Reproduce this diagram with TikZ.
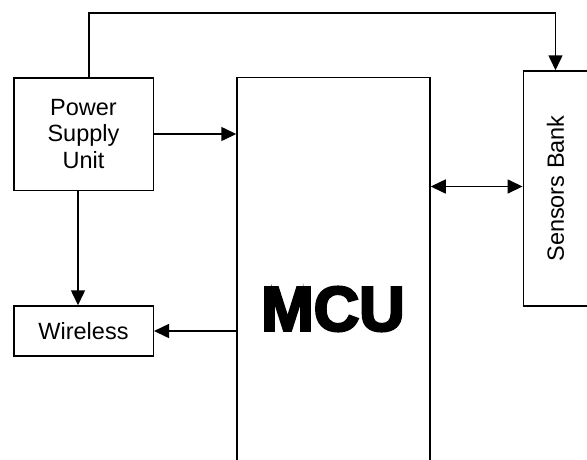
\documentclass[tikz,border=0pt]{standalone}
\usepackage{fontspec}
\setmainfont{Liberation Sans}
\newfontfamily\mcufont[FakeBold=4]{Liberation Sans Bold}
\usetikzlibrary{arrows.meta, calc, positioning}

\tikzset{
  block/.style={draw, line width=1.5pt, rectangle, inner sep=0pt, align=center,
    font=\fontsize{23.5}{26.7}\selectfont},
  arrow/.style={line width=1.5pt, -{Triangle[length=15pt, width=14pt]}},
  twoway/.style={line width=1.5pt, {Triangle[length=15pt, width=14pt]}-{Triangle[length=15pt, width=14pt]}}
}

\begin{document}
\begin{tikzpicture}[x=1pt, y=-1pt]
    % Page frame
    \useasboundingbox (0,0) rectangle (587,459);

    % Blocks
    \node[block, minimum width=139.5pt, minimum height=112.5pt] (psu) at (83.5,134) {Power\\Supply\\Unit};
    \node[block, minimum width=139.5pt, minimum height=50pt] (wireless) at (83.5,331) {Wireless};
    \node[block, minimum width=193pt, minimum height=386pt] (mcu) at (333.5,270.5) {};
    \node[font=\mcufont\fontsize{63}{63}\selectfont] (mculabel) at (333,309) {MCU};
    \node[block, minimum width=70pt, minimum height=235pt] (sensors) at (558.3,188.5) {};
    \node[font=\fontsize{23.5}{26.7}\selectfont, rotate=90] (sensorslabel) at (555.5,188.5) {Sensors Bank};

    % Supply rail over the top
    \coordinate (rail) at (0,13);
    \draw[arrow] ([xshift=5.5pt]psu.north) |- (rail -| sensorslabel) -- (sensorslabel |- sensors.north);

    % Links
    \draw[arrow] (psu.east) -- (psu.east -| mcu.west);
    \draw[arrow] ([xshift=-5.5pt]psu.south) -- ([xshift=-5.5pt]wireless.north);
    \draw[arrow] (wireless.east -| mcu.west) -- (wireless.east);
    \draw[twoway] ([yshift=2pt]mcu.east |- sensors.west) -- ([yshift=2pt]sensors.west);
\end{tikzpicture}
\end{document}
